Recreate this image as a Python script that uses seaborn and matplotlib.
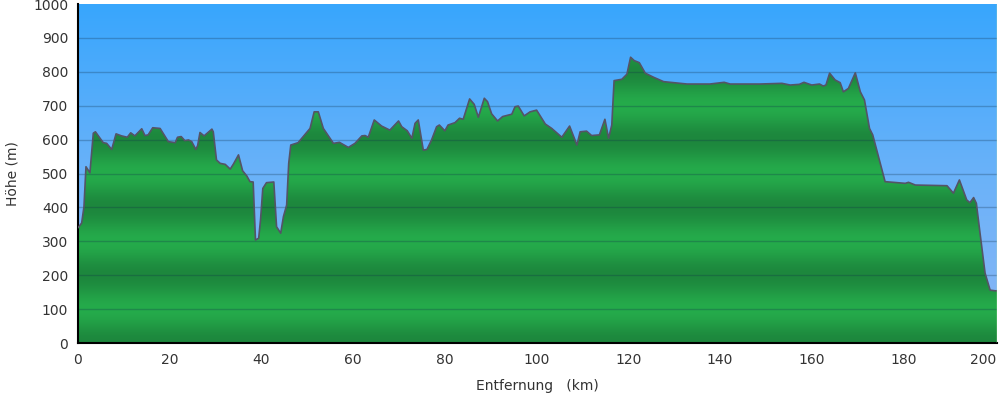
import numpy as np
import matplotlib
matplotlib.use("Agg")
import matplotlib.pyplot as plt
import seaborn as sns
from matplotlib.colors import LinearSegmentedColormap
from matplotlib.transforms import ScaledTranslation

# elevation profile (km, m)
dist_km = [0.0, 0.8, 1.3, 1.74, 2.6, 3.34, 3.8, 5.5, 6.25, 7.35, 8.3, 9.5, 10.75, 11.5, 12.4,
           13.9, 14.6, 15.3, 16.3, 17.9, 19.7, 21.2, 21.7, 22.5, 23.3, 24.1, 24.8, 25.7, 26.1,
           26.6, 27.5, 29.2, 29.5, 30.2, 31.0, 32.1, 33.2, 33.9, 35.0, 35.9, 36.8, 37.5, 38.2,
           38.7, 39.4, 39.8, 40.3, 41.1, 42.7, 43.3, 44.2, 44.8, 45.5, 45.95, 46.4, 48.0, 50.6,
           51.5, 52.4, 53.5, 55.7, 57.0, 58.95, 60.4, 61.9, 62.6, 63.3, 64.6, 66.2, 68.0, 69.9,
           70.6, 71.8, 72.8, 73.5, 74.2, 75.3, 76.1, 77.1, 78.2, 78.8, 80.0, 80.7, 82.2, 83.2,
           84.0, 85.4, 86.4, 87.3, 88.6, 89.3, 90.2, 91.5, 92.6, 94.6, 95.3, 96.0, 97.3, 98.6,
           100.0, 101.9, 103.3, 105.5, 107.2, 108.8, 109.5, 110.9, 112.0, 113.7, 114.9, 115.7,
           116.4, 116.9, 118.6, 119.7, 120.5, 121.3, 122.4, 123.7, 125.5, 127.7, 129.9, 132.8,
           137.8, 140.9, 142.2, 148.7, 153.5, 155.3, 157.3, 158.3, 160.0, 161.7, 162.5, 163.1,
           163.9, 165.1, 166.2, 166.9, 168.0, 169.5, 170.6, 171.5, 172.6, 173.3, 176.0, 177.8,
           180.4, 181.1, 182.6, 189.5, 190.9, 192.2, 193.8, 194.5, 195.3, 195.9, 196.7, 197.8,
           198.9, 200.0, 200.4]
elev_m = [340, 354, 402, 520, 502, 619, 623, 591, 589, 571, 617, 611, 607, 620, 611,
          632, 612, 614, 635, 633, 594, 591, 607, 609, 597, 599, 594, 571, 583,
          621, 611, 631, 623, 540, 530, 527, 513, 528, 555, 508, 493, 476, 475,
          304, 309, 363, 456, 473, 475, 343, 324, 373, 407, 530, 584, 591, 633,
          682, 682, 633, 589, 592, 577, 589, 611, 612, 607, 658, 640, 628, 655,
          638, 626, 604, 648, 658, 569, 571, 599, 638, 643, 626, 643, 650, 663,
          660, 720, 704, 666, 722, 712, 676, 655, 668, 675, 697, 699, 670, 682,
          687, 646, 633, 607, 640, 584, 623, 625, 612, 614, 660, 604,
          643, 774, 778, 793, 843, 833, 827, 796, 784, 771, 768, 764,
          764, 769, 764, 764, 766, 761, 763, 769, 761, 764, 758, 761,
          796, 776, 768, 741, 751, 797, 741, 717, 633, 614, 476, 474,
          471, 474, 466, 464, 442, 481, 422, 414, 429, 412, 324, 206,
          156, 154, 154]

x_ticks = list(range(0, 201, 20))
y_ticks = list(range(0, 1001, 100))

sns.set_style("white")
plt.rcParams['font.family'] = ['DejaVu Sans']

fig = plt.figure(figsize=(10, 3.94), dpi=100)
ax = fig.add_axes([0.078, 0.1294, 0.919, 0.8604])
xmax = 200.4

# sky gradient
sky = LinearSegmentedColormap.from_list("sky", ["#8ab6f5", "#6ab2f9", "#38a6fd"])
grad = np.linspace(0, 1, 256).reshape(-1, 1)
ax.imshow(grad, cmap=sky, aspect="auto", origin="lower",
          extent=[0, xmax, 0, 1000], zorder=0)

# banded green fill
hgt = np.linspace(0, 1000, 1000)
band = 0.5 - 0.5 * np.cos(2 * np.pi * hgt / 200)
greens = LinearSegmentedColormap.from_list("gr", ["#1d873d", "#25ab4b"])
green_img = ax.imshow(band.reshape(-1, 1), cmap=greens, aspect="auto", origin="lower",
                      extent=[0, xmax, 0, 1000], zorder=1)
poly = ax.fill_between(dist_km, elev_m, 0, color="none", lw=0)
green_img.set_clip_path(poly.get_paths()[0], transform=ax.transData)

# grid lines
for yv in y_ticks[1:-1]:
    ax.axhline(yv, color="#10304a", alpha=0.28, lw=1, zorder=2)

sns.lineplot(x=dist_km, y=elev_m, ax=ax, color="#545466", lw=1.2, zorder=3)

ax.set_xlim(0, xmax)
ax.set_ylim(0, 1000)
ax.set_xticks(x_ticks)
ax.set_yticks(y_ticks)
ax.tick_params(axis="both", direction="out", length=4, width=1.2, colors="black",
               labelcolor="#333333", labelsize=10, pad=3)
for side in ["top", "right"]:
    ax.spines[side].set_visible(False)
for side in ["left", "bottom"]:
    ax.spines[side].set_color("black")
    ax.spines[side].set_linewidth(1.5)
ax.axvline(xmax, color="#b8e8a0", lw=1, zorder=4)

# last x label sits flush with the right edge
last = ax.get_xticklabels()[-1]
last.set_horizontalalignment("right")
last.set_transform(last.get_transform() + ScaledTranslation(0.01, 0, fig.dpi_scale_trans))

ax.set_xlabel("Entfernung   (km)", fontsize=10, color="#333333", labelpad=9)
ax.set_ylabel("Höhe (m)", fontsize=10, color="#333333", labelpad=10)

fig.savefig("out.png", dpi=100)
